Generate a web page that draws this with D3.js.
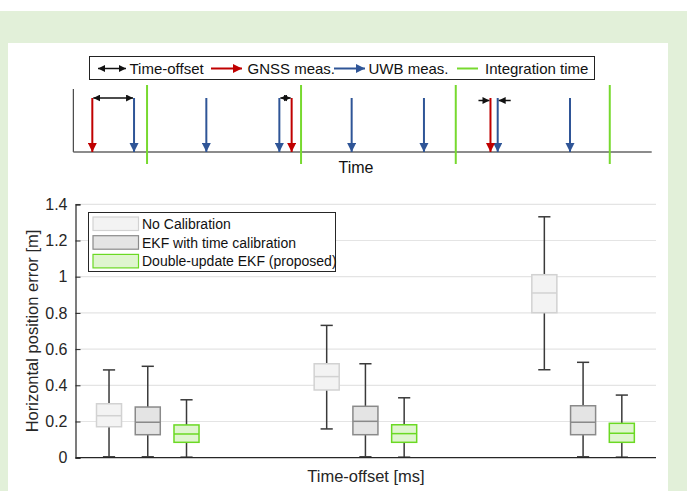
<!DOCTYPE html>
<html>
<head>
<meta charset="utf-8">
<script src="https://cdn.jsdelivr.net/npm/d3@7"></script>
<style>
  body { margin: 0; background: #fff; }
  svg { display: block; font-family: "Liberation Sans", Arial, sans-serif; }
</style>
</head>
<body>
<svg id="chart" width="687" height="491"></svg>
<script>
// ---- data: timing diagram (arbitrary time units) ----
const uwbTimes = [0.84, 1.84, 2.85, 3.85, 4.85, 5.87, 6.87];
const gnssTimes = [0.263, 3.02, 5.77];
const integrationTimes = [1.02, 3.15, 5.29, 7.42];
// time-offset markers: [from, to, style]
const offsetMarks = [[0.263, 0.84, 'inner'], [2.85, 3.02, 'inner'], [5.77, 5.87, 'outer']];
const topLegend = ['Time-offset', 'GNSS meas.', 'UWB meas.', 'Integration time'];

// ---- data: box plot, each [low whisker, q1, median, q3, high whisker] ----
const offsetGroups = [1, 2, 3];
const seriesNames = ['No Calibration', 'EKF with time calibration', 'Double-update EKF (proposed)'];
const noCalib = [[0.005, 0.171, 0.232, 0.298, 0.485], [0.159, 0.374, 0.448, 0.519, 0.731], [0.486, 0.801, 0.91, 1.011, 1.331]];
const ekfCalib = [[0.005, 0.127, 0.196, 0.28, 0.505], [0.005, 0.127, 0.201, 0.284, 0.519], [0.005, 0.127, 0.196, 0.287, 0.527]];
const doubleEkf = [[0.003, 0.085, 0.131, 0.181, 0.32], [0.003, 0.085, 0.133, 0.182, 0.331], [0.003, 0.085, 0.135, 0.19, 0.346]];
const yTicks = [0, 0.2, 0.4, 0.6, 0.8, 1, 1.2, 1.4];

const RED = '#c00000', BLUE = '#2f5597', GREEN = '#77d92f';
const svg = d3.select('#chart');

// background frame
svg.append('rect').attr('x', 0).attr('y', 11).attr('width', 687).attr('height', 480).attr('fill', '#e2f0d9');
svg.append('rect').attr('x', 8).attr('y', 43).attr('width', 660).attr('height', 448).attr('fill', '#fff');

// arrow markers
const defs = svg.append('defs');
function marker(id, color, w, h) {
  defs.append('marker').attr('id', id)
    .attr('viewBox', '0 0 10 10').attr('refX', 10).attr('refY', 5)
    .attr('markerWidth', w).attr('markerHeight', h).attr('markerUnits', 'userSpaceOnUse')
    .attr('orient', 'auto-start-reverse')
    .append('path').attr('d', 'M0,0L10,5L0,10Z').attr('fill', color);
}
marker('arRed', RED, 9, 9.5);
marker('arBlue', BLUE, 9, 9.5);
marker('arBlack', '#111', 7, 7);

// ---- timing diagram ----
const tx = d3.scaleLinear().domain([0, 8]).range([73.3, 651.7]);
const arrowTop = 98, baseY = 152;

svg.append('line').attr('x1', tx(0)).attr('x2', tx(0)).attr('y1', 89).attr('y2', baseY)
  .attr('stroke', '#222').attr('stroke-width', 1);
svg.append('line').attr('x1', tx(0)).attr('x2', tx(8)).attr('y1', baseY).attr('y2', baseY)
  .attr('stroke', '#666').attr('stroke-width', 1.5);

svg.selectAll('.intg').data(integrationTimes).join('line').attr('class', 'intg')
  .attr('x1', d => tx(d)).attr('x2', d => tx(d)).attr('y1', 85).attr('y2', 164)
  .attr('stroke', GREEN).attr('stroke-width', 2);

svg.selectAll('.uwb').data(uwbTimes).join('line').attr('class', 'uwb')
  .attr('x1', d => tx(d)).attr('x2', d => tx(d)).attr('y1', arrowTop).attr('y2', baseY)
  .attr('stroke', BLUE).attr('stroke-width', 2).attr('marker-end', 'url(#arBlue)');

svg.selectAll('.gnss').data(gnssTimes).join('line').attr('class', 'gnss')
  .attr('x1', d => tx(d)).attr('x2', d => tx(d)).attr('y1', arrowTop).attr('y2', baseY)
  .attr('stroke', RED).attr('stroke-width', 2).attr('marker-end', 'url(#arRed)');

offsetMarks.forEach(([a, b, style]) => {
  if (style === 'inner') {
    svg.append('line').attr('x1', tx(a) + 1).attr('x2', tx(b) - 1).attr('y1', arrowTop).attr('y2', arrowTop)
      .attr('stroke', '#111').attr('stroke-width', 1.5)
      .attr('marker-start', 'url(#arBlack)').attr('marker-end', 'url(#arBlack)');
  } else {
    svg.append('line').attr('x1', tx(a) - 12).attr('x2', tx(a) - 1).attr('y1', arrowTop + 2.5).attr('y2', arrowTop + 2.5)
      .attr('stroke', '#111').attr('stroke-width', 1.5).attr('marker-end', 'url(#arBlack)');
    svg.append('line').attr('x1', tx(b) + 13).attr('x2', tx(b) + 1).attr('y1', arrowTop + 2.5).attr('y2', arrowTop + 2.5)
      .attr('stroke', '#111').attr('stroke-width', 1.5).attr('marker-end', 'url(#arBlack)');
  }
});

svg.append('text').attr('x', 356).attr('y', 173).attr('text-anchor', 'middle')
  .attr('font-size', 16).attr('fill', '#111').text('Time');

// top legend
const lg = svg.append('g');
lg.append('rect').attr('x', 89.5).attr('y', 56.5).attr('width', 505).attr('height', 23)
  .attr('fill', '#fff').attr('stroke', '#222').attr('stroke-width', 1);
const legY = 68.5;
const legItems = [
  { x1: 98, x2: 126, tx: 129.5, kind: 'double', color: '#111' },
  { x1: 211, x2: 242, tx: 247.5, kind: 'arrow', color: RED, m: 'arRed' },
  { x1: 334, x2: 365, tx: 368.5, kind: 'arrow', color: BLUE, m: 'arBlue' },
  { x1: 457, x2: 478, tx: 485, kind: 'line', color: GREEN }
];
legItems.forEach((d, i) => {
  const l = lg.append('line').attr('x1', d.x1).attr('x2', d.x2).attr('y1', legY).attr('y2', legY)
    .attr('stroke', d.color).attr('stroke-width', d.kind === 'double' ? 1.5 : 2);
  if (d.kind === 'double') l.attr('marker-start', 'url(#arBlack)').attr('marker-end', 'url(#arBlack)');
  if (d.kind === 'arrow') l.attr('marker-end', `url(#${d.m})`);
  lg.append('text').attr('x', d.tx).attr('y', legY + 5.2).attr('font-size', 15).attr('fill', '#111')
    .text(topLegend[i]);
});

// ---- box plot ----
const x = d3.scaleLinear().domain([0.668, 3.335]).range([75.5, 656]);
const y = d3.scaleLinear().domain([0, 1.4]).range([457.7, 204.3]);
const plotL = x(0.668), plotR = x(3.335);

// grid
svg.selectAll('.grid').data(yTicks.slice(1)).join('line').attr('class', 'grid')
  .attr('x1', plotL).attr('x2', plotR).attr('y1', d => y(d)).attr('y2', d => y(d))
  .attr('stroke', '#e4e4e4').attr('stroke-width', 1.2);

// y axis
const yAxis = svg.append('g').attr('transform', `translate(${plotL},0)`)
  .call(d3.axisLeft(y).tickValues(yTicks).tickSize(-5).tickPadding(8).tickFormat(d3.format('')));
yAxis.select('.domain').attr('stroke', '#262626').attr('stroke-width', 1.2);
yAxis.selectAll('.tick line').attr('stroke', '#262626');
yAxis.selectAll('.tick text').attr('font-size', 16).attr('fill', '#262626')
  .attr('font-family', '"Liberation Sans", Arial, sans-serif');

svg.append('text').attr('transform', `translate(38,331) rotate(-90)`).attr('text-anchor', 'middle')
  .attr('font-size', 16.5).attr('fill', '#262626').text('Horizontal position error [m]');
svg.append('text').attr('x', 366).attr('y', 482).attr('text-anchor', 'middle')
  .attr('font-size', 16.5).attr('fill', '#262626').text('Time-offset [ms]');

const seriesList = [
  { vals: noCalib, off: -0.178, fill: '#f3f3f3', stroke: '#d2d2d2' },
  { vals: ekfCalib, off: 0, fill: '#e4e4e4', stroke: '#8a8a8a' },
  { vals: doubleEkf, off: 0.178, fill: '#dff5cf', stroke: '#6bd923' }
];
const boxW = x(0.115) - x(0);
const capW = x(0.056) - x(0);

seriesList.forEach(s => {
  const g = svg.append('g');
  s.vals.forEach((v, i) => {
    const cx = x(offsetGroups[i] + s.off);
    const [lo, q1, med, q3, hi] = v;
    // whiskers
    g.append('line').attr('x1', cx).attr('x2', cx).attr('y1', y(q3)).attr('y2', y(hi))
      .attr('stroke', '#3a3a3a').attr('stroke-width', 1.5);
    g.append('line').attr('x1', cx).attr('x2', cx).attr('y1', y(q1)).attr('y2', y(lo))
      .attr('stroke', '#3a3a3a').attr('stroke-width', 1.5);
    [lo, hi].forEach(w => g.append('line')
      .attr('x1', cx - capW / 2).attr('x2', cx + capW / 2).attr('y1', y(w)).attr('y2', y(w))
      .attr('stroke', '#3a3a3a').attr('stroke-width', 1.5));
    // box
    g.append('rect').attr('x', cx - boxW / 2).attr('y', y(q3)).attr('width', boxW).attr('height', y(q1) - y(q3))
      .attr('fill', s.fill).attr('stroke', s.stroke).attr('stroke-width', 1.5);
    g.append('line').attr('x1', cx - boxW / 2).attr('x2', cx + boxW / 2).attr('y1', y(med)).attr('y2', y(med))
      .attr('stroke', s.stroke).attr('stroke-width', 1.5);
  });
});

// x axis line
svg.append('line').attr('x1', plotL).attr('x2', plotR).attr('y1', y(0)).attr('y2', y(0))
  .attr('stroke', '#262626').attr('stroke-width', 1.2);

// plot legend
const pl = svg.append('g');
pl.append('rect').attr('x', 88.5).attr('y', 212.5).attr('width', 247).attr('height', 59)
  .attr('fill', '#fff').attr('stroke', '#262626').attr('stroke-width', 1);
seriesList.forEach((s, i) => {
  const yy = 217 + i * 18.7;
  pl.append('rect').attr('x', 93).attr('y', yy).attr('width', 45.5).attr('height', 13.5)
    .attr('fill', s.fill).attr('stroke', s.stroke).attr('stroke-width', 1.2);
  pl.append('text').attr('x', 142).attr('y', yy + 12).attr('font-size', 14).attr('fill', '#111')
    .text(seriesNames[i]);
});
</script>
</body>
</html>
